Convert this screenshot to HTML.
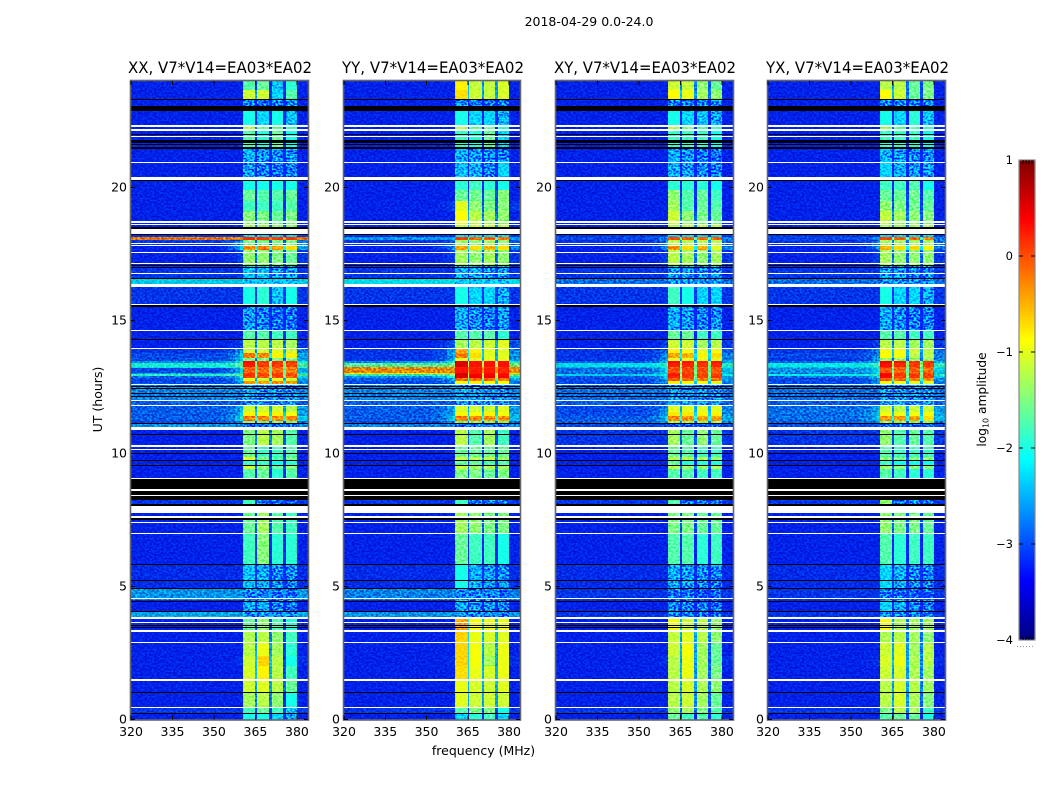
<!DOCTYPE html>
<html lang="en">
<head>
<meta charset="utf-8">
<title>2018-04-29 0.0-24.0</title>
<style>
html,body{margin:0;padding:0;background:#fff;}
body{width:1050px;height:800px;overflow:hidden;}
svg{display:block;font-family:"DejaVu Sans","Liberation Sans",sans-serif;fill:#000;}
</style>
</head>
<body>
<svg id="chart" xmlns="http://www.w3.org/2000/svg" width="1050" height="800" viewBox="0 0 1050 800">
  <defs id="defs">
    <filter id="speckle" x="0" y="0" width="100%" height="100%" color-interpolation-filters="sRGB">
      <feTurbulence type="fractalNoise" baseFrequency="0.42 0.55" numOctaves="1" seed="7"/>
      <feColorMatrix type="matrix" values="3.2 0 0 0 -1.1  3.2 0 0 0 -1.1  3.2 0 0 0 -1.1  0 0 0 0 1"/>
    </filter>
    <linearGradient id="jet-gradient" x1="0" y1="1" x2="0" y2="0"></linearGradient>
  </defs>
  <text x="589" y="26" text-anchor="middle" font-size="12.5">2018-04-29 0.0-24.0</text>
  <text x="483.5" y="755" text-anchor="middle" font-size="12.5">frequency (MHz)</text>
  <text transform="translate(102 399.5) rotate(-90)" text-anchor="middle" font-size="12.5">UT (hours)</text>
  <text transform="translate(986 399.5) rotate(-90)" text-anchor="middle" font-size="12.2">log<tspan font-size="8" dy="2.5">10</tspan><tspan dy="-2.5"> amplitude</tspan></text>
  <g id="panels"></g>
  <g id="colorbar"></g>
</svg>
<script>
// Time rows: start hour (UT) of each heatmap row; last row ends at hourMax
const rowStarts = [0,.21,.46,1,1.5,2,2.4,2.9,3.3,3.82,4.05,4.5,4.9,5.83,7,8.05,9.05,9.42,9.53,9.76,9.87,10.3,10.9,11.01,11.13,11.22,11.41,11.56,11.8,12,12.61,12.73,12.83,12.91,12.99,13.04,13.21,13.26,13.39,13.49,13.58,13.77,13.93,14.26,14.64,15.57,16.25,16.55,17.05,17.65,17.78,18.03,18.13,18.44,18.6,19.1,19.5,19.9,20.4,21,21.45,22.12,22.35,22.9,23.3,23.67];
const hourMax = 24;
// Spectral windows (MHz)
const spwEdges = [[360.5,365],[365.6,370],[370.9,375],[375.9,380]];
const freqMin = 320, freqMax = 384, tailStart = 352;
const tailFracs = [0.08,0.22,0.5,0.85];
const tailEdges = [352,355,357.5,359.5,360.5];
// Log10 amplitude per row: [out-of-band, band-edge, spw1, spw2, spw3, spw4]
const xxAmp = [
[-3.2,-3.2,-1.9,-1.9,-2,-2.3],[-3.1,-3.1,-1.7,-1.5,-1.7,-2.1],[-3.2,-3.2,-1.2,-1.1,-1.3,-1.9],[-3.2,-3.2,-1,-.9,-1.1,-1.5],[-3.2,-3.2,-.95,-.7,-1.1,-1.7],
[-3.2,-3.1,-1,-.55,-1.1,-1.9],[-3.2,-3.2,-1.1,-.85,-1.2,-1.8],[-3.2,-3.2,-1.15,-1.1,-1.3,-1.7],[-3.2,-3.2,-1.5,-1.3,-1.6,-1.8],[-2.5,-2.5,-2.4,-2.4,-2.5,-2.5],
[-3.2,-3.2,-2.2,-2.2,-2.5,-2.6],[-2.6,-2.6,-2.5,-2.5,-2.6,-2.6],[-3.15,-3.15,-2.1,-2.2,-2.4,-2.5],[-3.2,-3.2,-1.7,-1.35,-1.8,-1.8],[-3.2,-3.2,-1.5,-1.2,-1.6,-1.7],
[-3.1,-3.1,-1.7,-2.6,-2.6,-2.7],[-3.2,-3.2,-1.6,-1.5,-1.8,-1.6],[-3.2,-3.2,-.95,-1.3,-1.5,-1.3],[-3.2,-3.2,-1.7,-1.7,-1.9,-1.8],[-3.2,-3.2,-.9,-1.4,-1.6,-1.4],
[-3.2,-3.2,-1.5,-1.7,-1.7,-1.6],[-3.2,-3.2,-1.4,-1.1,-1.2,-1.6],[-3.1,-3.1,-2.4,-2.4,-2.5,-2.5],[-2.6,-2.6,-2.7,-2.7,-2.7,-2.7],[-3,-2.7,-1.5,-1.5,-1.5,-1.5],
[-2.9,-1.8,-.25,-.3,-.3,-.3],[-2.9,-2.2,-.7,-.75,-.7,-.8],[-2.9,-2.3,-1,-1,-1,-1.1],[-2.9,-2.9,-2.4,-2.3,-2.4,-2.4],[-2.7,-2.7,-2.2,-2.3,-2.4,-2.4],
[-3,-2.4,-.35,-.4,-.3,-.4],[-3,-2.2,-.9,-1,-.9,-1],[-2.8,-1.8,.1,-.05,.05,-.05],[-1.9,-1.5,.15,.05,.1,0],[-2.5,-1.9,.1,0,.05,-.1],
[-3,-2,-.1,-.2,-.15,-.25],[-2.2,-1.8,-.1,-.2,-.15,-.2],[-2,-1.5,.25,.1,.1,.05],[-2.6,-1.7,.35,.1,.15,.1],[-3,-2.1,-1.4,-1.4,-1.4,-1.4],
[-3,-2.1,-.2,-.3,-.7,-.7],[-3.1,-2.5,-1,-1,-.9,-1],[-3.2,-3,-1.1,-1.1,-1.1,-1.2],[-3.2,-3.2,-1.6,-1.6,-1.7,-1.7],[-3.2,-3.2,-2.3,-2.5,-2.6,-2.6],
[-3.1,-3.1,-1.9,-1.8,-2.1,-1.9],[-2.3,-2.3,-2.1,-2.1,-2.1,-2.1],[-3.1,-3.1,-2.1,-2.1,-2.3,-2.3],[-3.2,-3,-1.3,-1.3,-1.4,-1.5],[-3.2,-2,-.3,-.25,-.4,-.6],
[-3.1,-2.4,-1.4,-1.4,-1.4,-1.4],[-.25,-.3,.2,.15,.1,.1],[-3.1,-3.1,-2,-2,-2,-2],[-3.2,-3.2,-1.2,-1.2,-1.3,-1.3],[-3.2,-3.2,-1.35,-1.4,-1.5,-1.4],
[-3.2,-3.2,-1.7,-1.7,-1.7,-1.6],[-3.2,-3.2,-1.5,-1.6,-1.6,-1.5],[-3.2,-3.2,-1.9,-1.9,-1.9,-1.9],[-3.2,-3.2,-2.3,-2.5,-2.6,-2.5],[-3.2,-3.2,-2.2,-2.3,-2.4,-2.4],
[-3.2,-3.2,-1.6,-1.8,-1.5,-1.9],[-3.2,-3.2,-1.1,-1.5,-1.5,-1.7],[-3.2,-3.2,-1.9,-2,-1.9,-2.1],[-3.2,-3.2,-2.5,-2.6,-2.5,-2.5],[-3.2,-3.2,-1,-1,-2,-1.6],
[-3.2,-3.2,-1.6,-1.5,-2.1,-1.8]];
const yyAmp = [
[-3.2,-3.2,-2,-1.8,-1.7,-2],[-3.1,-3.1,-1.6,-1.4,-1.4,-1.9],[-3.2,-3.2,-.9,-1,-1,-1],[-3.2,-3.2,-.85,-.95,-1,-.9],[-3.2,-3.2,-.6,-.85,-.95,-.85],
[-3.2,-3.1,-.55,-.8,-1.2,-.85],[-3.2,-3.2,-.55,-.8,-1.1,-.85],[-3.2,-3.2,-.55,-.85,-.95,-.9],[-3.2,-3.2,-.45,-.75,-.85,-.85],[-2.6,-2.6,-2.4,-2.4,-2.5,-2.5],
[-3.2,-3.2,-2.2,-2.4,-2.4,-2.5],[-2.7,-2.7,-2.4,-2.5,-2.5,-2.6],[-3.15,-3.15,-1.9,-2.2,-2.3,-2.4],[-3.2,-3.2,-1.5,-1.7,-1.7,-1.9],[-3.2,-3.2,-1.2,-1.3,-1.4,-1.4],
[-3.1,-3.1,-1.7,-2.5,-2.5,-2.6],[-3.2,-3.2,-1.4,-1.4,-1.5,-1.4],[-3.2,-3.2,-1,-1.2,-1.1,-1.2],[-3.2,-3.2,-1.5,-1.5,-1.6,-1.6],[-3.2,-3.2,-1,-1.1,-1,-1.2],
[-3.2,-3.2,-1.5,-1.5,-1.5,-1.5],[-3.2,-3.2,-1.1,-1.6,-1.2,-1.7],[-3.1,-3.1,-2.2,-2.3,-2.4,-2.4],[-2.7,-2.7,-2.7,-2.7,-2.7,-2.7],[-3,-2.7,-1.4,-1.4,-1.4,-1.4],
[-2.9,-1.9,-.25,-.3,-.3,-.35],[-2.9,-2.2,-.7,-.75,-.7,-.8],[-2.9,-2.3,-.95,-1,-1,-.9],[-2.9,-2.9,-2.3,-2.3,-2.4,-2.4],[-2.7,-2.7,-2.3,-2.3,-2.4,-2.4],
[-3,-2.6,-.8,-.7,-.8,-.8],[-2.9,-2.2,-.15,-.1,-.1,-.2],[-2.6,-1.5,.55,.45,.45,.4],[-1.8,-1.3,.55,.4,.4,.35],[-.9,-.8,.5,.3,.35,.3],
[-.35,-.35,.3,.25,.25,.2],[-.4,-.4,.25,.2,.2,.15],[-1.7,-1.3,.55,.3,.3,.3],[-2.6,-1.6,.55,.3,.3,.3],[-3.1,-2.1,-.9,-.9,-.9,-.9],
[-3.1,-2.2,-.25,-.6,-.9,-.9],[-3.1,-2.4,-.45,-.7,-.9,-.9],[-3.2,-2.8,-1.2,-1.1,-1,-.9],[-3.2,-3.2,-1.6,-1.6,-1.6,-1.8],[-3.2,-3.2,-2.2,-2.4,-2.5,-2.3],
[-3.1,-3.1,-1.9,-2,-2,-2.2],[-2.2,-2.2,-2.1,-2.1,-2.1,-2.1],[-3.1,-3.1,-2.2,-2.2,-2.4,-2.3],[-3.2,-3,-1.2,-1.3,-1.2,-1.3],[-3.2,-2.4,-.45,-.6,-.5,-.6],
[-3.1,-2.8,-1.2,-1.3,-1.2,-1.3],[-2.6,-2.5,.1,-.1,-.1,-.2],[-3.1,-3.1,-2,-2,-2,-2],[-3.2,-3.2,-1,-1,-1,-1.1],[-3.2,-3.2,-.75,-1.1,-1.2,-1.3],
[-3.2,-3,-.9,-1.3,-1.4,-1.35],[-3.2,-3.2,-1.5,-1.45,-1.5,-1.35],[-3.2,-3.2,-1.8,-1.7,-1.8,-1.9],[-3.2,-3.2,-2.1,-2.2,-2.5,-2],[-3.2,-3.2,-2.2,-2.3,-2.4,-2.5],
[-3.2,-3.2,-1.7,-1.8,-1.5,-2],[-3.2,-3.2,-1.1,-1.5,-1.5,-1.8],[-3.2,-3.2,-1.9,-2,-2,-2.2],[-3.2,-3.2,-2.4,-2.5,-2.6,-2.5],[-3.2,-3.2,-.6,-1,-1.05,-.95],
[-3.2,-3.2,-.7,-1.05,-1.05,-.95]];
const xyAmp = [
[-3.2,-3.2,-1.5,-1.7,-1.6,-1.8],[-3.1,-3.1,-1.3,-1.2,-1.4,-1.6],[-3.2,-3.2,-1.1,-1,-1.2,-1.5],[-3.2,-3.2,-1.1,-.95,-1.15,-1.3],[-3.2,-3.2,-1.1,-.85,-1.2,-1.4],
[-3.2,-3.1,-1.1,-.85,-1.2,-1.5],[-3.2,-3.2,-1,-.8,-1.2,-1.5],[-3.2,-3.2,-1.05,-.9,-1.1,-1.3],[-3.2,-3.2,-.8,-1,-1.1,-1.3],[-3.1,-3.1,-2.5,-2.5,-2.6,-2.6],
[-3.2,-3.2,-2.4,-2.5,-2.6,-2.6],[-3.1,-3.1,-2.6,-2.6,-2.7,-2.7],[-3.15,-3.15,-2.2,-2.3,-2.4,-2.5],[-3.2,-3.2,-1.6,-1.6,-1.8,-1.7],[-3.2,-3.2,-1.4,-1.4,-1.5,-1.5],
[-3.1,-3.1,-1.6,-2.5,-2.5,-2.6],[-3.2,-3.2,-1.6,-1.6,-1.7,-1.7],[-3.2,-3.2,-1.1,-1.2,-1.2,-1.1],[-3.2,-3.2,-1.5,-1.8,-1.8,-1.8],[-3.2,-3.2,-1.1,-1.1,-1.1,-1.2],
[-3.2,-3.2,-1.5,-1.6,-1.7,-1.7],[-3.1,-3.1,-1.2,-1.5,-1.3,-1.5],[-3.1,-3.1,-2.3,-2.3,-2.4,-2.4],[-3,-3,-2.7,-2.7,-2.7,-2.7],[-2.9,-2.6,-1.3,-1.3,-1.3,-1.3],
[-2.9,-2.1,-.3,-.3,-.4,-.4],[-3,-2.3,-.65,-.65,-.7,-.7],[-3,-2.5,-.9,-.9,-.9,-.9],[-2.9,-2.9,-2.2,-2.2,-2.3,-2.3],[-2.8,-2.8,-2.3,-2.3,-2.4,-2.4],
[-3,-2.5,-.7,-.8,-.8,-.9],[-3,-2.3,-.05,-.1,-.2,-.15],[-2.9,-2.1,.2,.1,.05,.1],[-2.3,-1.9,.3,.1,.05,.1],[-2.8,-2.1,.2,.1,.05,.05],
[-2.8,-2,0,.05,0,-.05],[-2.5,-1.9,-.1,-.05,-.1,-.1],[-2.2,-1.7,.25,.2,.15,.2],[-2.9,-2.1,.35,.3,.2,.3],[-3.1,-2.3,-.9,-.9,-.9,-.9],
[-3.1,-2.5,-.45,-.5,-.7,-.6],[-3.1,-2.7,-.7,-.8,-.9,-.8],[-3.2,-3,-1,-1,-1.2,-1.1],[-3.2,-3.2,-1.5,-1.5,-1.7,-1.7],[-3.2,-3.2,-2.2,-2.3,-2.5,-2.4],
[-3.1,-3.1,-1.7,-1.9,-2,-2],[-2.8,-2.8,-2.3,-2.3,-2.3,-2.3],[-3.1,-3.1,-2.3,-2.3,-2.4,-2.4],[-3.2,-3,-1.1,-1.2,-1.3,-1.2],[-3.2,-2.4,-.35,-.6,-.5,-.9],
[-3.1,-2.6,-1.1,-1.1,-1.1,-1.1],[-3,-2.5,0,-.05,-.1,-.1],[-3.1,-3.1,-2,-2,-2,-2],[-3.2,-3.2,-1.1,-1.1,-1.1,-1.1],[-3.2,-3.2,-1,-1.3,-1.4,-1.5],
[-3.2,-3.2,-1.2,-1.6,-1.5,-1.6],[-3.2,-3.2,-1.3,-1.6,-1.5,-1.7],[-3.2,-3.2,-1.8,-1.8,-1.8,-1.9],[-3.2,-3.2,-2.2,-2.3,-2.4,-2.5],[-3.2,-3.2,-2.2,-2.3,-2.5,-2.6],
[-3.2,-3.2,-1.7,-1.7,-1.7,-1.9],[-3.2,-3.2,-1.1,-1.4,-1.6,-1.7],[-3.2,-3.2,-1.9,-2,-2.1,-2.2],[-3.2,-3.2,-2.5,-2.5,-2.5,-2.5],[-3.2,-3.2,-.75,-.85,-1.2,-1.3],
[-3.2,-3.2,-1,-1.05,-1.3,-1.5]];
const yxAmp = [
[-3.2,-3.2,-1.6,-1.5,-1.5,-1.9],[-3.1,-3.1,-1.4,-1.1,-1.2,-1.7],[-3.2,-3.2,-1.1,-.95,-1.15,-1.35],[-3.2,-3.2,-1.1,-.95,-1.1,-1.2],[-3.2,-3.2,-1,-.95,-1.15,-1.2],
[-3.2,-3.1,-.95,-.85,-1.15,-1.1],[-3.2,-3.2,-1,-.9,-1.2,-1.1],[-3.2,-3.2,-1.15,-1.1,-1.2,-1.3],[-3.2,-3.2,-.8,-1.15,-1.2,-1.2],[-3.1,-3.1,-2.4,-2.5,-2.5,-2.6],
[-3.2,-3.2,-2,-2.2,-2.5,-2.5],[-3.1,-3.1,-2.5,-2.6,-2.7,-2.7],[-3.15,-3.15,-2,-2.2,-2.4,-2.5],[-3.2,-3.2,-1.6,-1.8,-1.7,-1.7],[-3.2,-3.2,-1.3,-1.4,-1.4,-1.5],
[-3.1,-3.1,-1.3,-2.5,-2.4,-2.6],[-3.2,-3.2,-1.6,-1.7,-1.8,-1.8],[-3.2,-3.2,-1.2,-1.3,-1.3,-1.3],[-3.2,-3.2,-1.7,-1.9,-1.9,-1.9],[-3.2,-3.2,-1.3,-1.4,-1.3,-1.3],
[-3.2,-3.2,-1.6,-1.7,-1.7,-1.7],[-3.1,-3.1,-1.3,-1.6,-1.5,-1.6],[-3.1,-3.1,-2.3,-2.3,-2.4,-2.4],[-3,-3,-2.7,-2.7,-2.7,-2.7],[-2.9,-2.6,-1.4,-1.4,-1.4,-1.4],
[-2.8,-2.1,-.35,-.4,-.4,-.6],[-2.8,-2.2,-.8,-.85,-.8,-.8],[-2.8,-2.4,-1,-1.1,-1,-1],[-2.9,-2.9,-2.2,-2.3,-2.3,-2.3],[-2.8,-2.8,-2.3,-2.3,-2.4,-2.4],
[-3,-2.5,-.8,-.85,-.9,-.9],[-3,-2.3,-.05,-.15,-.2,-.25],[-2.8,-2,.35,.1,.1,.05],[-2.1,-1.8,.4,.1,.1,.05],[-2.7,-2.1,.3,.05,.05,0],
[-2.6,-2,-.05,-.1,-.1,-.15],[-2.4,-1.8,.1,0,0,-.1],[-2.1,-1.7,.3,.2,.1,.1],[-2.8,-2.1,.4,.3,.15,.15],[-3.1,-2.3,-1.3,-1.3,-1.3,-1.3],
[-3,-2.5,-.75,-.8,-1.1,-1.1],[-3.1,-2.6,-.8,-.8,-1,-1.1],[-3.2,-3,-1.1,-1.1,-1.2,-1.2],[-3.2,-3.2,-1.6,-1.6,-1.7,-1.7],[-3.2,-3.2,-2.2,-2.4,-2.5,-2.5],
[-3.1,-3.1,-1.9,-2,-2,-2.2],[-2.8,-2.8,-2.3,-2.3,-2.3,-2.3],[-3.1,-3.1,-2.3,-2.3,-2.4,-2.4],[-3.2,-3,-1.2,-1.3,-1.3,-1.3],[-3.2,-2.4,-.5,-.6,-.55,-.7],
[-3.1,-2.6,-1.2,-1.2,-1.2,-1.2],[-3,-2.5,.05,-.1,-.15,-.2],[-3.1,-3.1,-2,-2,-2,-2],[-3.2,-3.2,-1.2,-1.2,-1.2,-1.2],[-3.2,-3.2,-1.05,-1.2,-1.3,-1.35],
[-3.2,-3.2,-1.3,-1.4,-1.45,-1.5],[-3.2,-3.2,-1.5,-1.5,-1.45,-1.6],[-3.2,-3.2,-1.7,-1.7,-1.6,-1.9],[-3.2,-3.2,-2,-2.2,-2.3,-2.3],[-3.2,-3.2,-2.2,-2.3,-2.4,-2.4],
[-3.2,-3.2,-1.7,-1.7,-1.7,-1.9],[-3.2,-3.2,-1.2,-1.5,-1.6,-1.7],[-3.2,-3.2,-1.9,-2,-1.8,-2.1],[-3.2,-3.2,-2.5,-2.5,-2.5,-2.5],[-3.2,-3.2,-.75,-1,-1.5,-1.4],
[-3.2,-3.2,-1.1,-1.1,-1.5,-1.4]];
// Flagged time ranges, [from, to] in hours: white = no data, black = zero amplitude
const whiteFlags = [[.43,.48],[1.45,1.51],[2.88,2.91],[3.29,3.36],[3.63,3.67],[3.78,3.84],[4.53,4.57],[6.97,7.02],[7.4,7.44],[7.59,7.66],[7.77,8.03],[8.4,8.44],[8.59,8.65],[9.03,9.07],[10.13,10.17],[10.26,10.3],[10.88,11.01],[11.79,11.82],[11.97,12.01],[12.49,12.52],[12.56,12.6],[13.93,13.97],[14.6,14.64],[15.57,15.62],[16.25,16.37],[16.76,16.8],[17.12,17.16],[17.54,17.58],[17.78,17.82],[17.86,17.9],[18.25,18.44],[18.59,18.64],[18.68,18.74],[20.28,20.39],[20.92,20.96],[21.9,21.94],[22.12,22.19],[22.26,22.35]];
const blackFlags = [[.21,.23],[1,1.03],[3.43,3.47],[3.52,3.56],[4.04,4.08],[4.43,4.47],[4.91,4.94],[5.21,5.24],[5.81,5.85],[7.51,7.56],[8.04,8.09],[8.25,8.4],[8.44,8.59],[8.65,9.03],[9.53,9.57],[9.72,9.76],[9.97,10],[10.71,10.74],[11.11,11.13],[12.13,12.16],[12.26,12.29],[12.43,12.46],[12.52,12.55],[14.26,14.3],[15.52,15.57],[16.55,16.59],[16.96,17],[17.05,17.09],[18.21,18.25],[18.44,18.53],[20.24,20.28],[21.44,21.53],[21.59,21.62],[21.68,21.75],[21.77,21.8],[21.96,21.99],[22.89,23.07],[23.28,23.32]];
// Axis ticks and labels
const xTicks = [320,335,350,365,380];
const yTicks = [0,5,10,15,20];
const panelTitles = ['XX, V7*V14=EA03*EA02','YY, V7*V14=EA03*EA02','XY, V7*V14=EA03*EA02','YX, V7*V14=EA03*EA02'];
const panelKeys = ['xx','yy','xy','yx'];
const panelAmps = [xxAmp,yyAmp,xyAmp,yxAmp];
const cbTicks = [1,0,-1,-2,-3,-4];
const cbMin = -4, cbMax = 1;

// Layout constants
const panelLeft = [131,344,556,768];
const panelWidth = [177,176,177,177];
const titleCenter = [220,433,645,857.5];
const titleWidth = [184,182,182,183];
const plotTop = 81, plotBottom = 719.5;
const cbX = 1019, cbW = 16, cbTop = 160, cbBottom = 640;
const dimLevel = -1.9;
const SVGNS = 'http://www.w3.org/2000/svg';

function el(tag, parent){
  const n = document.createElementNS(SVGNS, tag);
  parent.appendChild(n);
  return n;
}
function xScale(i, f){ return panelLeft[i] + (f - freqMin) / (freqMax - freqMin) * panelWidth[i]; }
function yScale(h){ return plotBottom - h / hourMax * (plotBottom - plotTop); }
function cbY(v){ return cbBottom - (v - cbMin) / (cbMax - cbMin) * (cbBottom - cbTop); }
function jet(t){
  t = Math.max(0, Math.min(1, t));
  const r = Math.max(0, Math.min(1, Math.min(4*t - 1.5, 4.5 - 4*t)));
  const g = Math.max(0, Math.min(1, Math.min(4*t - 0.5, 3.5 - 4*t)));
  const b = Math.max(0, Math.min(1, Math.min(4*t + 0.5, 2.5 - 4*t)));
  return 'rgb(' + Math.round(r*255) + ',' + Math.round(g*255) + ',' + Math.round(b*255) + ')';
}
function ampColor(v){ return jet((v - cbMin) / (cbMax - cbMin)); }
// Averaged-speckle correction: dim spectral windows read lower once their noise is drawn
function bandLevel(v){
  if (v < dimLevel) return v - 0.3;
  if (v < -0.5) return v - 0.12;
  return v;
}

function addCell(g, i, f0, f1, h0, h1, v){
  const x0 = Math.round(xScale(i, f0)), x1 = Math.round(xScale(i, f1));
  const y1 = Math.round(yScale(h0)), y0 = Math.round(yScale(h1));
  if (y1 <= y0 || x1 <= x0) return;
  const r = el('rect', g);
  r.setAttribute('x', x0);
  r.setAttribute('y', y0);
  r.setAttribute('width', x1 - x0);
  r.setAttribute('height', y1 - y0);
  r.setAttribute('fill', ampColor(v));
  
  
}
function addClipCell(clip, i, f0, f1, h0, h1){
  const r = el('rect', clip);
  r.setAttribute('x', Math.round(xScale(i, f0)));
  r.setAttribute('y', Math.round(yScale(h1)));
  r.setAttribute('width', Math.round(xScale(i, f1)) - Math.round(xScale(i, f0)));
  r.setAttribute('height', Math.round(yScale(h0)) - Math.round(yScale(h1)));
}
function addFlag(g, i, range, color){
  const y0 = Math.round(yScale(range[1]));
  const y1 = Math.max(y0 + 1, Math.round(yScale(range[0])));
  const r = el('rect', g);
  r.setAttribute('x', panelLeft[i]);
  r.setAttribute('y', y0);
  r.setAttribute('width', panelWidth[i]);
  r.setAttribute('height', y1 - y0);
  r.setAttribute('fill', color);
  
  
}
function addNoise(g, x, w, blend, opacity, name){
  const n = el('rect', g);
  n.setAttribute('x', x);
  n.setAttribute('y', plotTop);
  n.setAttribute('width', w);
  n.setAttribute('height', plotBottom - plotTop);
  n.setAttribute('filter', 'url(#speckle)');
  n.setAttribute('style', 'mix-blend-mode:' + blend + ';opacity:' + opacity);
  
  
}
function addLine(g, x1, y1, x2, y2, name, color){
  const l = el('line', g);
  l.setAttribute('x1', x1);
  l.setAttribute('y1', y1);
  l.setAttribute('x2', x2);
  l.setAttribute('y2', y2);
  l.setAttribute('stroke', color || '#000');
  l.setAttribute('stroke-width', 1);
  l.setAttribute('shape-rendering', 'crispEdges');
  
  
}
function addText(g, x, y, str, anchor, size, name){
  const t = el('text', g);
  t.setAttribute('x', x);
  t.setAttribute('y', y);
  t.setAttribute('text-anchor', anchor);
  t.setAttribute('font-size', size);
  t.textContent = str;
  
  
  return t;
}

const panelsRoot = document.getElementById('panels');
const defsRoot = document.getElementById('defs');
panelAmps.forEach(function(amp, i){
  const key = panelKeys[i];
  const panel = el('g', panelsRoot);
  
  

  const clip = el('clipPath', defsRoot);
  clip.setAttribute('id', key + '-dim-clip');

  const cells = el('g', panel);
  cells.setAttribute('shape-rendering', 'crispEdges');
  
  
  amp.forEach(function(row, r){
    const h0 = rowStarts[r];
    const h1 = r + 1 < rowStarts.length ? rowStarts[r + 1] : hourMax;
    const bg = row[0], tail = row[1];
    addCell(cells, i, freqMin, tailStart, h0, h1, bg);
    tailFracs.forEach(function(fr, k){
      addCell(cells, i, tailEdges[k], tailEdges[k + 1], h0, h1, bg + (tail - bg) * fr);
    });
    spwEdges.forEach(function(e, s){
      addCell(cells, i, e[0], e[1], h0, h1, bandLevel(row[s + 2]));
      if (row[s + 2] < dimLevel) addClipCell(clip, i, e[0], e[1], h0, h1);
      if (s < spwEdges.length - 1) {
        const level = Math.max(bg, (row[s + 2] + row[s + 3]) / 2 - 1.6);
        addCell(cells, i, e[1], spwEdges[s + 1][0], h0, h1, level);
      }
    });
    addCell(cells, i, spwEdges[3][1], freqMax, h0, h1, bg + (tail - bg) * 0.55);
  });

  const L = panelLeft[i], R = L + panelWidth[i];
  const bandL = xScale(i, spwEdges[0][0]), bandR = xScale(i, spwEdges[3][1]);
  addNoise(panel, L, panelWidth[i], 'overlay', .5, key + '-noise-texture');
  addNoise(panel, L, bandL - L, 'multiply', .18, key + '-left-noise-texture');
  addNoise(panel, bandR, R - bandR, 'multiply', .18, key + '-right-noise-texture');

  const dimNoise = el('g', panel);
  dimNoise.setAttribute('clip-path', 'url(#' + key + '-dim-clip)');
  dimNoise.setAttribute('style', 'mix-blend-mode:overlay');
  
  
  addNoise(dimNoise, L, panelWidth[i], 'normal', .9, key + '-dim-band-noise-texture');

  const flags = el('g', panel);
  flags.setAttribute('shape-rendering', 'crispEdges');
  
  
  whiteFlags.forEach(function(f){ addFlag(flags, i, f, '#fff'); });
  blackFlags.forEach(function(f){ addFlag(flags, i, f, '#000'); });

  const frame = el('rect', panel);
  frame.setAttribute('x', L - 0.5);
  frame.setAttribute('y', plotTop - 0.5);
  frame.setAttribute('width', panelWidth[i] + 1);
  frame.setAttribute('height', plotBottom - plotTop + 1);
  frame.setAttribute('fill', 'none');
  frame.setAttribute('stroke', '#666');
  frame.setAttribute('stroke-width', 1.6);
  
  

  xTicks.forEach(function(t){
    const x = xScale(i, t);
    addLine(panel, x, plotTop, x, plotTop + 4, 'x-tick-top');
    addLine(panel, x, plotBottom - 4, x, plotBottom, 'x-tick-bottom');
    addText(panel, x, 736, String(t), 'middle', 12.5, 'x-tick-label');
  });
  yTicks.forEach(function(t){
    const y = yScale(t);
    addLine(panel, L, y, L + 4, y, 'y-tick-left');
    addLine(panel, R - 4, y, R, y, 'y-tick-right');
    addText(panel, L - 4, y + 4, String(t), 'end', 12.5, 'y-tick-label');
  });
  const title = addText(panel, titleCenter[i], 73, panelTitles[i], 'middle', 15.6, key + '-panel-title');
  title.setAttribute('textLength', titleWidth[i]);
  title.setAttribute('lengthAdjust', 'spacingAndGlyphs');
});

// Colour bar
const grad = document.getElementById('jet-gradient');
for (let k = 0; k <= 32; k++) {
  const stop = el('stop', grad);
  stop.setAttribute('offset', (k / 32 * 100) + '%');
  stop.setAttribute('stop-color', jet(k / 32));
}
const cb = document.getElementById('colorbar');
const cbRect = el('rect', cb);
cbRect.setAttribute('x', cbX);
cbRect.setAttribute('y', cbTop);
cbRect.setAttribute('width', cbW);
cbRect.setAttribute('height', cbBottom - cbTop);
cbRect.setAttribute('fill', 'url(#jet-gradient)');
cbRect.setAttribute('stroke', '#888');
cbRect.setAttribute('stroke-width', 1.2);


cbTicks.forEach(function(v){
  const y = Math.round(cbY(v));
  if (v !== cbMax && v !== cbMin) {
    addLine(cb, cbX, y, cbX + 4, y, 'colorbar-tick');
    addLine(cb, cbX + cbW - 4, y, cbX + cbW, y, 'colorbar-tick');
  }
  const label = v < 0 ? '\u2212' + Math.abs(v) : String(v);
  addText(cb, cbX - 6, y + 4, label, 'end', 11.5, 'colorbar-tick-label');
});
[1023,1026,1029,1032].forEach(function(x){
  addLine(cb, x, cbTop, x, cbTop + 4, 'colorbar-minor-tick');
  addLine(cb, x, cbBottom - 4, x, cbBottom, 'colorbar-minor-tick');
});
const dots = el('line', cb);
dots.setAttribute('x1', 1017);
dots.setAttribute('y1', 646.5);
dots.setAttribute('x2', 1035);
dots.setAttribute('y2', 646.5);
dots.setAttribute('stroke', '#999');
dots.setAttribute('stroke-dasharray', '1 2');


</script>
</body>
</html>
